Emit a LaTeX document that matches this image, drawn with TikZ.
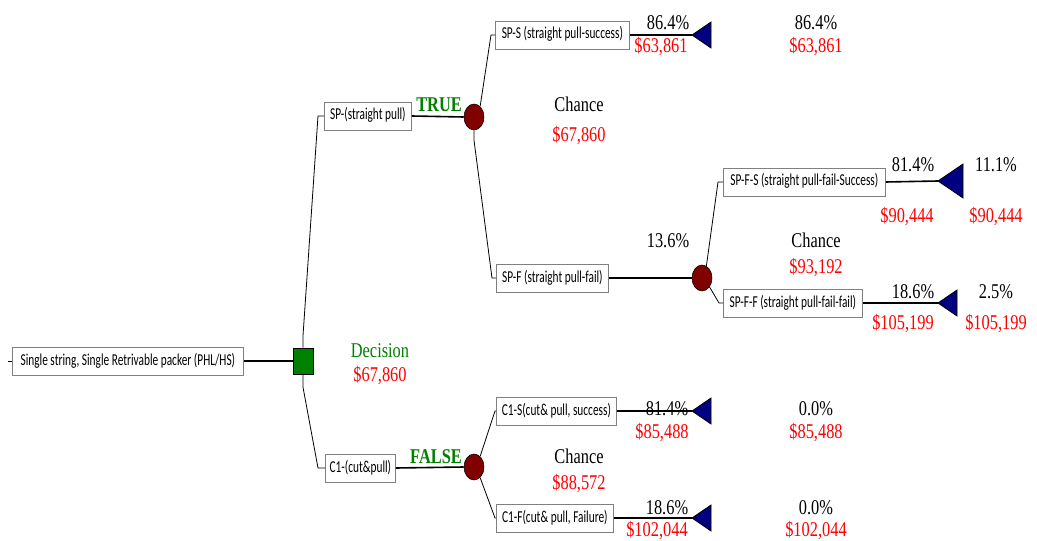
\documentclass[tikz,border=0pt]{standalone}
\usepackage{fontspec}
\setmainfont{Liberation Serif}[FakeStretch=0.78]
\newfontfamily\boxfont{Carlito}[FakeStretch=0.68]
\usetikzlibrary{shapes.geometric}
\definecolor{decgreen}{HTML}{008000}
\definecolor{chred}{HTML}{800000}
\definecolor{endblue}{HTML}{000080}
\definecolor{valred}{HTML}{FF0000}

\begin{document}
\begin{tikzpicture}[x=0.75pt, y=-0.75pt,
  evbox/.style={draw=gray, line width=0.6pt, fill=white, anchor=west, inner xsep=2pt,
    minimum height=21pt, minimum width=#1*0.75pt,
    font=\boxfont\fontsize{12.5pt}{14pt}\selectfont, text height=8.5pt, text depth=2.5pt},
  dnode/.style={draw, fill=decgreen, minimum width=15pt, minimum height=19.5pt, inner sep=0pt},
  cnode/.style={ellipse, draw, fill=chred, minimum width=15pt, minimum height=19.5pt, inner sep=0pt},
  leaf/.style={draw, fill=endblue, line width=0.6pt, line join=miter},
  arm/.style={line width=1.2pt},
  stem/.style={line width=0.6pt},
  num/.style={anchor=base, inner sep=0pt, font=\fontsize{15.75pt}{18pt}\selectfont},
  val/.style={num, text=valred},
  lbl/.style={num, text=decgreen, font=\fontsize{15.75pt}{18pt}\selectfont\bfseries}]
\useasboundingbox (0,0) rectangle (1037,541);

\node[evbox=231] (root) at (12,361) {Single string, Single Retrivable packer (PHL/HS)};
\node[dnode] (dec) at (303,361) {};
\node[evbox=87] (sp) at (324,116) {SP-(straight pull)};
\node[evbox=70] (c1) at (325,468) {C1-(cut\&pull)};
\node[cnode] (ct) at (474,117) {};
\node[cnode] (cc) at (474,467) {};
\node[evbox=134] (sps) at (495,35) {SP-S (straight pull-success)};
\node[evbox=112] (spf) at (496,278) {SP-F (straight pull-fail)};
\node[cnode] (cf) at (702,278) {};
\node[evbox=162] (spfs) at (723,182) {SP-F-S (straight pull-fail-Success)};
\node[evbox=139] (spff) at (723,303) {SP-F-F (straight pull-fail-fail)};
\node[evbox=120] (c1s) at (496,411) {C1-S(cut\& pull, success)};
\node[evbox=117] (c1f) at (496,518) {C1-F(cut\& pull, Failure)};

\coordinate (jsp) at (318,116);
\coordinate (jc1) at (318,468);
\coordinate (jsps) at (491,35);
\coordinate (jspf) at (492,278);
\coordinate (jspfs) at (718,182);
\coordinate (jspff) at (719,303);
\coordinate (jc1s) at (495,411);
\coordinate (jc1f) at (495,518);
\coordinate (lfa) at (692,35);
\coordinate (lfb) at (938,181);
\coordinate (lfc) at (938,303);
\coordinate (lfd) at (692,411);
\coordinate (lfe) at (692,518);

% branches
\draw[stem] (root.west) -- ++(-4,0);
\draw[arm] (root.east) -- (dec.west);
\draw[stem] (dec.north) -- ++(0,-12) -- (jsp) -- (sp.west);
\draw[stem] (dec.south) -- ++(0,13) -- (jc1) -- (c1.west);
\draw[arm] (sp.east) -- (ct.west);
\draw[arm] (c1.east) -- (cc.west);
\draw[stem] (ct.60) -- (jsps) -- (sps.west);
\draw[stem] (ct.south) -- ++(0,10) -- (jspf) -- (spf.west);
\draw[arm] (spf.east) -- (cf.west);
\draw[stem] (cf.70) -- (jspfs) -- (spfs.west);
\draw[stem] (cf.-50) -- (jspff) -- (spff.west);
\draw[stem] (cc.60) -- (jc1s) -- (c1s.west);
\draw[stem] (cc.-60) -- (jc1f) -- (c1f.west);
\draw[arm] (sps.east) -- (lfa);
\draw[arm] (spfs.east) -- (lfb);
\draw[arm] (spff.east) -- (lfc);
\draw[arm] (c1s.east) -- (lfd);
\draw[arm] (c1f.east) -- (lfe);

% end nodes
\draw[leaf] (lfa) -- ++(19,-13) -- ++(0,26) -- cycle;
\draw[leaf] (lfb) -- ++(25,-17) -- ++(0,34) -- cycle;
\draw[leaf] (lfc) -- ++(19,-13) -- ++(0,26) -- cycle;
\draw[leaf] (lfd) -- ++(19,-13) -- ++(0,26) -- cycle;
\draw[leaf] (lfe) -- ++(19,-13) -- ++(0,26) -- cycle;

\node[lbl] (ttrue) at (439,112) {TRUE};
\node[lbl] (tfalse) at (436,463) {FALSE};
\node[num, text=decgreen] (tdec) at (380,357) {Decision};
\node[val] (vdec) at (380,381) {\$67,860};
\node[num] (tct) at (579,112) {Chance};
\node[val] (vct) at (579,142) {\$67,860};
\node[num] (pa) at (668,30) {86.4\%};
\node[val] (va) at (661,53) {\$63,861};
\node[num] (qa) at (816,30) {86.4\%};
\node[val] (wa) at (816,53) {\$63,861};
\node[num] (pspf) at (668,248) {13.6\%};
\node[num] (tcf) at (816,248) {Chance};
\node[val] (vcf) at (816,273) {\$93,192};
\node[num] (pb) at (913,172) {81.4\%};
\node[val] (vb) at (907,223) {\$90,444};
\node[num] (qb) at (996,172) {11.1\%};
\node[val] (wb) at (996,223) {\$90,444};
\node[num] (pc) at (913,298) {18.6\%};
\node[val] (vc) at (903,329) {\$105,199};
\node[num] (qc) at (996,298) {2.5\%};
\node[val] (wc) at (996,329) {\$105,199};
\node[num] (tcc) at (579,463) {Chance};
\node[val] (vcc) at (579,489) {\$88,572};
\node[num] (pd) at (667,415) {81.4\%};
\node[val] (vd) at (662,438) {\$85,488};
\node[num] (qd) at (816,415) {0.0\%};
\node[val] (wd) at (816,438) {\$85,488};
\node[num] (pe) at (667,514) {18.6\%};
\node[val] (ve) at (657,536) {\$102,044};
\node[num] (qe) at (816,514) {0.0\%};
\node[val] (we) at (816,536) {\$102,044};
\end{tikzpicture}
\end{document}
